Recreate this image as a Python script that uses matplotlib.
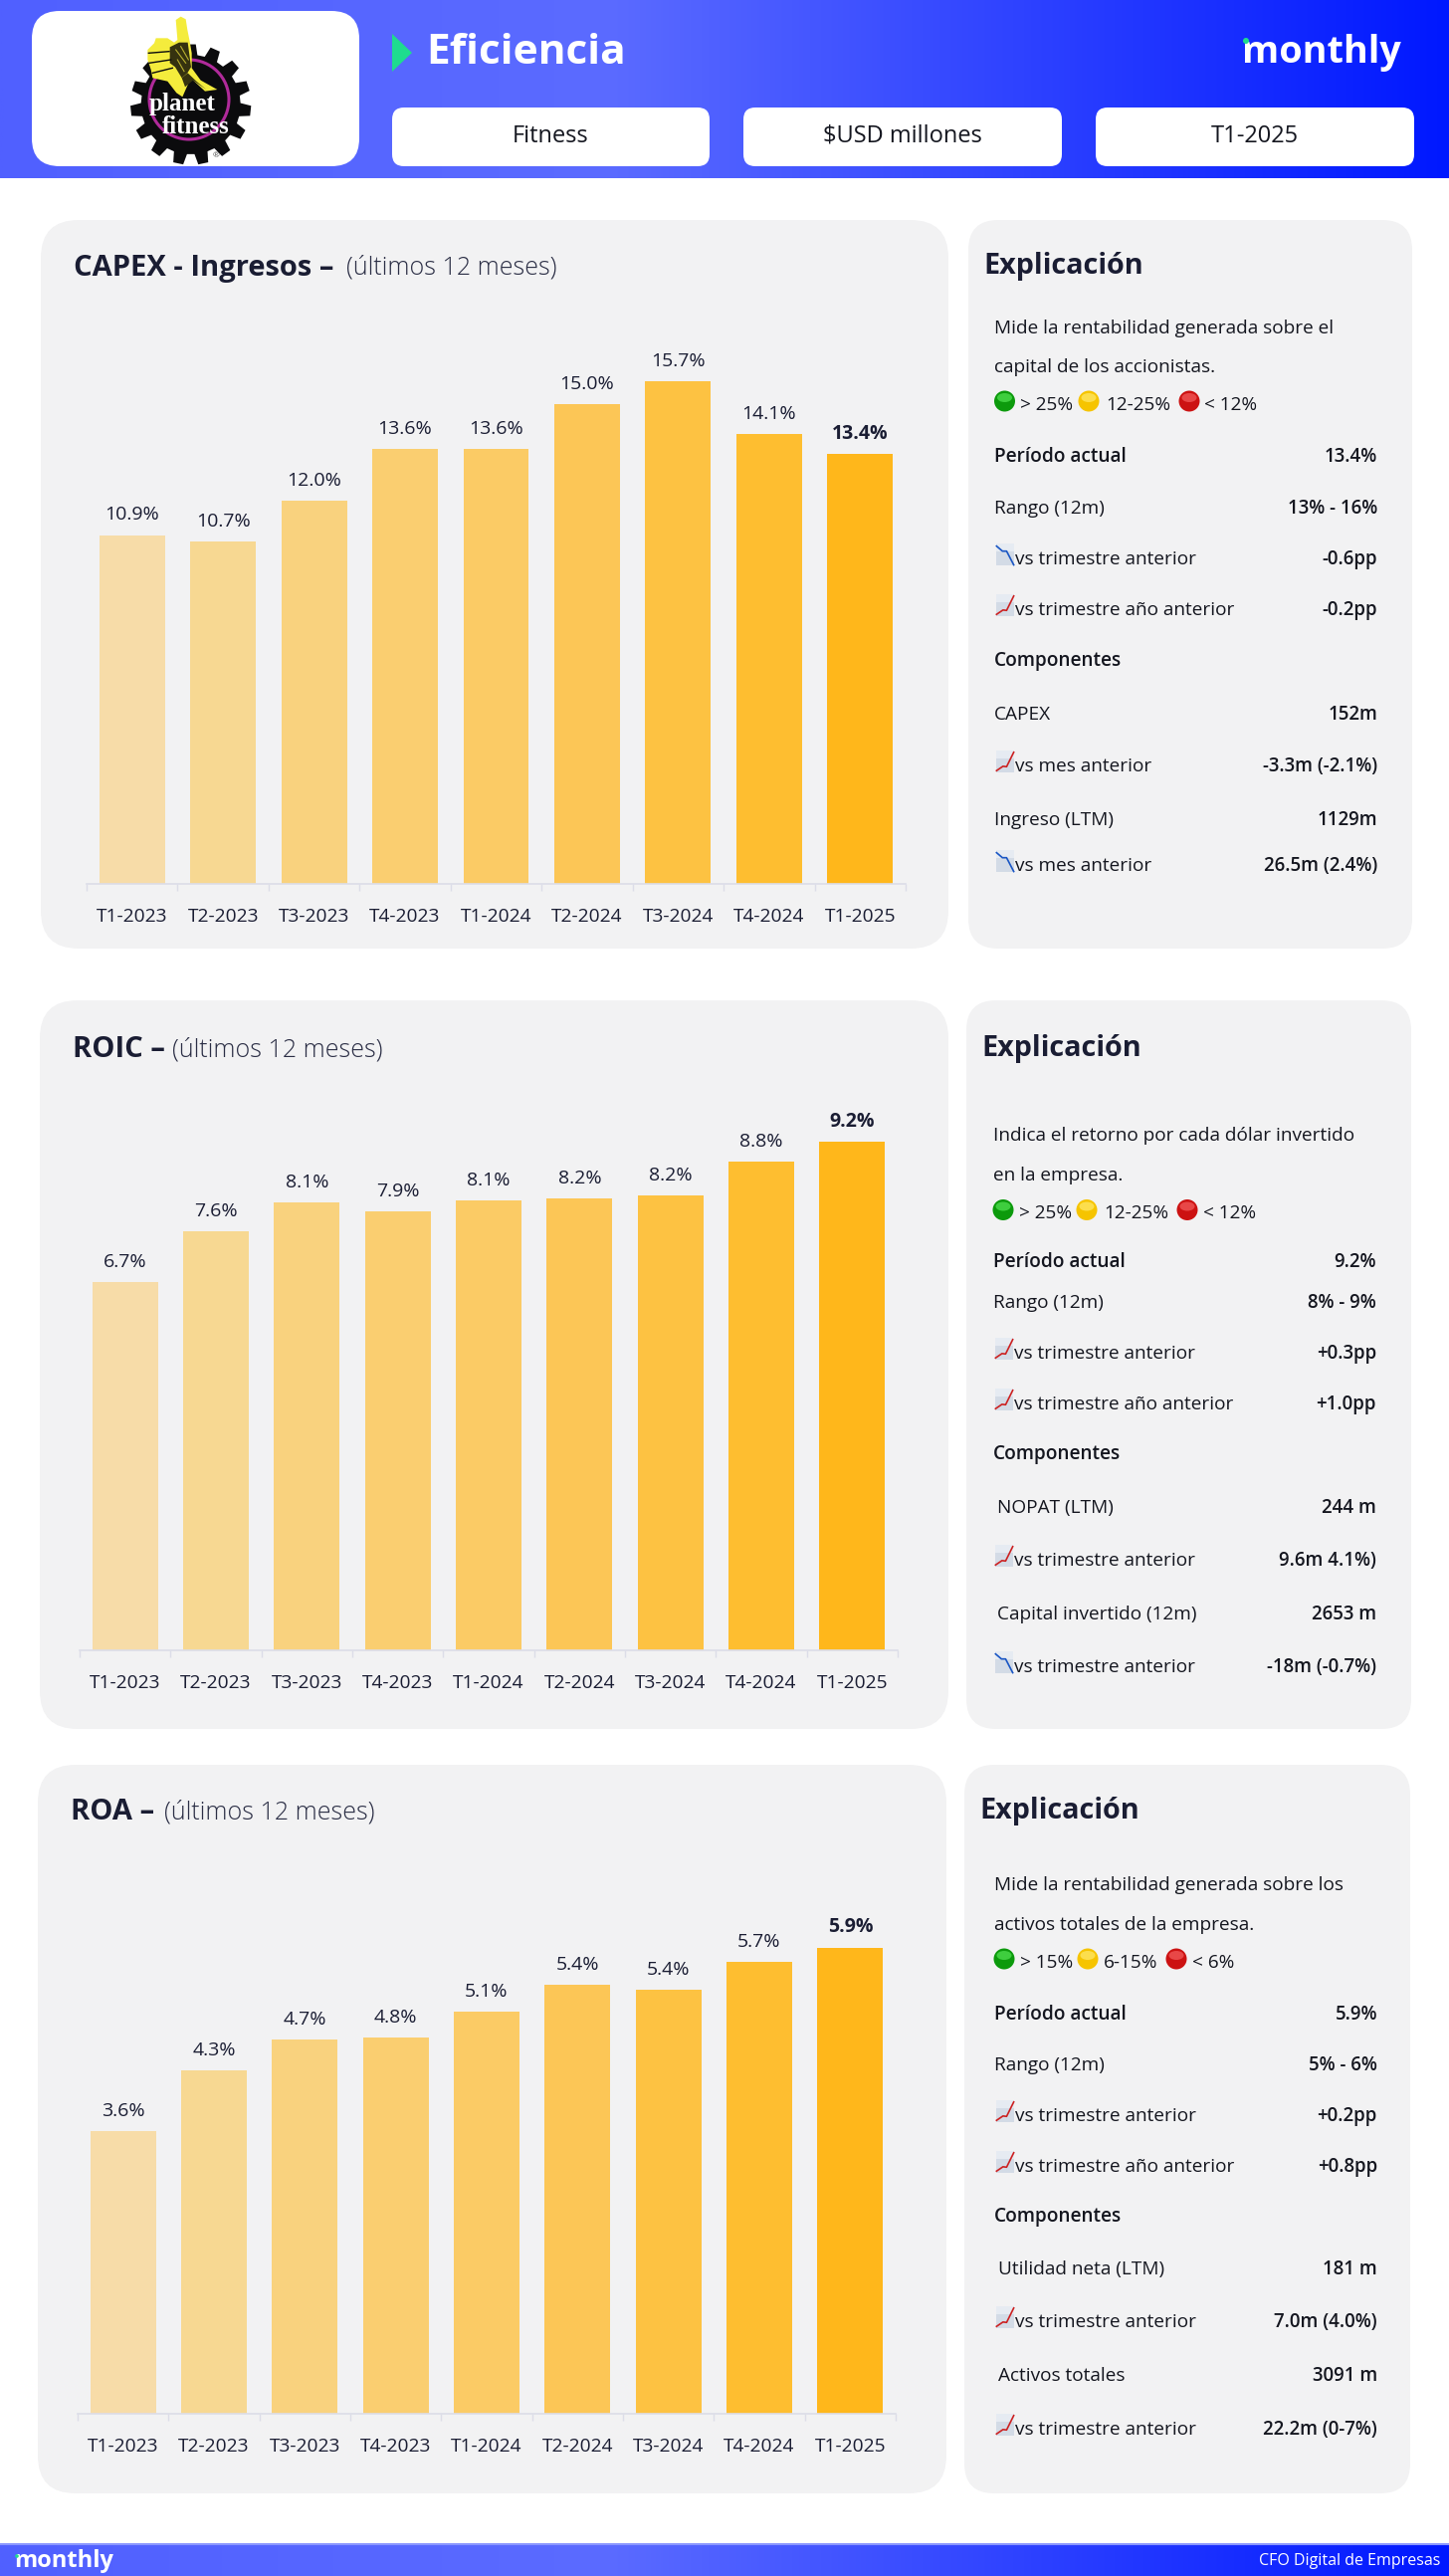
import numpy as np
import matplotlib
matplotlib.use("Agg")
import matplotlib.pyplot as plt
from matplotlib.colors import LinearSegmentedColormap
from matplotlib.patches import FancyBboxPatch, Circle, Ellipse, Polygon, Rectangle

plt.rcParams["font.family"] = ["Open Sans", "DejaVu Sans"]

W, H = 1456, 2588
DARK = "#1a1d33"
PANEL = "#f2f2f3"

# chart data
periods = ["T1-2023", "T2-2023", "T3-2023", "T4-2023", "T1-2024", "T2-2024", "T3-2024", "T4-2024", "T1-2025"]
capex_values = [10.9, 10.7, 11.96, 13.6, 13.6, 15.0, 15.7, 14.06, 13.44]
roic_values = [6.67, 7.59, 8.1, 7.94, 8.14, 8.18, 8.24, 8.84, 9.2]
roa_values = [3.58, 4.34, 4.74, 4.76, 5.09, 5.43, 5.36, 5.72, 5.9]
bar_colors = ["#f7dca8", "#f7d892", "#f9d27e", "#face70", "#fbcb65", "#fcc656", "#fdc242", "#febe30", "#ffb71b"]

# text of the side panels
capex_intro = ["Mide la rentabilidad generada sobre el", "capital de los accionistas."]
capex_legend = ["> 25%", "12-25%", "< 12%"]
capex_labels = ["Período actual", "Rango (12m)", "vs trimestre anterior", "vs trimestre año anterior", "Componentes",
                "CAPEX", "vs mes anterior", "Ingreso (LTM)", "vs mes anterior"]
capex_texts = ["13.4%", "13% - 16%", "-0.6pp", "-0.2pp", "", "152m", "-3.3m (-2.1%)", "1129m", "26.5m (2.4%)"]
capex_icons = ["", "", "down", "up", "", "", "up", "", "down"]

roic_intro = ["Indica el retorno por cada dólar invertido", "en la empresa."]
roic_legend = ["> 25%", "12-25%", "< 12%"]
roic_labels = ["Período actual", "Rango (12m)", "vs trimestre anterior", "vs trimestre año anterior", "Componentes",
               " NOPAT (LTM)", "vs trimestre anterior", " Capital invertido (12m)", "vs trimestre anterior"]
roic_texts = ["9.2%", "8% - 9%", "+0.3pp", "+1.0pp", "", "244 m", "9.6m 4.1%)", "2653 m", "-18m (-0.7%)"]
roic_icons = ["", "", "up", "up", "", "", "up", "", "down"]

roa_intro = ["Mide la rentabilidad generada sobre los", "activos totales de la empresa."]
roa_legend = ["> 15%", "6-15%", "< 6%"]
roa_labels = ["Período actual", "Rango (12m)", "vs trimestre anterior", "vs trimestre año anterior", "Componentes",
              " Utilidad neta (LTM)", "vs trimestre anterior", " Activos totales", "vs trimestre anterior"]
roa_texts = ["5.9%", "5% - 6%", "+0.2pp", "+0.8pp", "", "181 m", "7.0m (4.0%)", "3091 m", "22.2m (0-7%)"]
roa_icons = ["", "", "up", "up", "", "", "up", "", "up"]

fig = plt.figure(figsize=(W / 100, H / 100), dpi=100, facecolor="white")
bg = fig.add_axes([0, 0, 1, 1])
bg.set_axis_off()

grad = LinearSegmentedColormap.from_list("hdr", [(0, "#5060ff"), (0.42, "#5b6bff"), (1, "#0018ff")])
ramp = np.linspace(0, 1, 512).reshape(1, -1)
bg.imshow(ramp, cmap=grad, extent=[0, W, 179, 0], aspect="auto")
bg.imshow(ramp, cmap=grad, extent=[0, W, H, 2556], aspect="auto")
bg.set_xlim(0, W)
bg.set_ylim(H, 0)


def rbox(x0, y0, x1, y1, r, color):
    bg.add_patch(FancyBboxPatch((x0, y0), x1 - x0, y1 - y0, boxstyle=f"round,pad=0,rounding_size={r}",
                                fc=color, ec="none", zorder=2))


def lz(pts):
    return [(120 + a / 3, 10 + b / 3) for a, b in pts]


def draw_logo():
    n = 15
    cx, cy = 215, 285
    pts = []
    for i in range(n):
        a = 2 * np.pi * i / n - np.pi / 2
        step = 2 * np.pi / n
        for da, rad in [(-0.32, 150), (-0.2, 182), (0.2, 182), (0.32, 150)]:
            pts.append((cx + rad * np.cos(a + da * step), cy + rad * np.sin(a + da * step)))
    bg.add_patch(Polygon(lz(pts), fc="#0b0b0d", ec="none", zorder=3))
    bg.add_patch(Circle((190, 100), 40, fc="none", ec="#b02a9a", lw=2.2, zorder=4))
    # thumb, fist and wrist
    thumb = [(170, 30), (185, 20), (200, 28), (205, 60), (212, 95), (218, 130), (218, 175), (245, 212), (295, 240),
             (258, 245), (215, 205), (190, 262), (172, 250), (145, 215), (100, 205), (95, 180), (85, 150), (85, 120),
             (105, 100), (110, 85), (145, 85), (165, 98), (175, 90)]
    bg.add_patch(Polygon(lz(thumb), fc="#f4ec3c", ec="none", zorder=5))
    shade = [(152, 112), (180, 98), (206, 98), (216, 172), (205, 190), (188, 205), (168, 172), (152, 160)]
    bg.add_patch(Polygon(lz(shade), fc="#35320f", ec="none", zorder=6))
    wrist = [(206, 190), (232, 215), (262, 240), (222, 212), (198, 232), (188, 205)]
    bg.add_patch(Polygon(lz(wrist), fc="#35320f", ec="none", zorder=6))
    for seg in ([(88, 130), (150, 125)], [(90, 160), (155, 150)], [(100, 190), (160, 175)]):
        bg.plot(*zip(*lz(seg)), color="#0b0b0d", lw=1, zorder=6)
    for seg in ([(170, 120), (200, 160)], [(185, 110), (208, 150)], [(175, 150), (195, 185)]):
        bg.plot(*zip(*lz(seg)), color="#b8b030", lw=0.8, zorder=6)
    bg.text(120 + 188 / 3, 111, "planet", family="Liberation Serif", weight="bold", fontsize=18, color="white",
            ha="center", va="baseline", zorder=7)
    bg.text(120 + 229 / 3, 134, "fitness", family="Liberation Serif", weight="bold", fontsize=18, color="white",
            ha="center", va="baseline", zorder=7)
    bg.text(120 + 290 / 3, 10 + 441 / 3, "®", fontsize=6, color="#555555", ha="center", va="center", zorder=7)


def draw_header():
    rbox(32, 11, 361, 167, 28, "white")
    draw_logo()
    bg.add_patch(Polygon([(394, 34), (414, 53), (394, 72)], fc="#1edc8e", ec="none", zorder=3))
    bg.text(428, 54, "Eficiencia", color="white", fontsize=30.5, weight="bold", ha="left", va="center", zorder=3)
    bg.text(1408, 53, "monthly", color="white", fontsize=27.2, weight="bold", ha="right", va="center", zorder=3)
    bg.add_patch(Circle((1252, 41), 3, fc="#1edc8e", ec="none", zorder=4))
    for (x0, x1), txt in zip([(394, 713), (747, 1067), (1101, 1421)], ["Fitness", "$USD millones", "T1-2025"]):
        rbox(x0, 108, x1, 167, 12, "white")
        bg.text((x0 + x1) / 2, 137, txt, color="#14161f", fontsize=17, ha="center", va="center", zorder=3)


def draw_footer():
    bg.plot([0, W], [2555.5, 2555.5], color="#8b97ff", lw=1.5, zorder=3)
    bg.text(14, 2573, "monthly", color="white", fontsize=17, weight="bold", ha="left", va="center", zorder=3)
    bg.add_patch(Circle((17, 2568), 1.8, fc="#1edc8e", ec="none", zorder=4))
    bg.text(1447, 2573, "CFO Digital de Empresas", color="white", fontsize=11.5, ha="right", va="center", zorder=3)


def draw_chart(values, x0, x1, base, unit, ymax):
    ax = fig.add_axes([x0 / W, 1 - base / H, (x1 - x0) / W, unit * ymax / H])
    ax.patch.set_alpha(0)
    xs = np.arange(len(periods))
    ax.bar(xs, values, width=0.72, color=bar_colors, edgecolor="none")
    ax.set_xlim(-0.5, len(periods) - 0.5)
    ax.set_ylim(0, ymax)
    for s in ["top", "left", "right"]:
        ax.spines[s].set_visible(False)
    ax.spines["bottom"].set_color("#dcdde8")
    ax.spines["bottom"].set_linewidth(1.2)
    ax.set_yticks([])
    ax.set_xticks(xs)
    ax.set_xticklabels(periods, fontsize=13.8, color=DARK)
    ax.set_xticks(np.arange(len(periods) + 1) - 0.5, minor=True)
    ax.tick_params(axis="x", which="major", length=0, pad=17)
    ax.tick_params(axis="x", which="minor", length=5, color="#dcdde8", width=1)
    for i, v in enumerate(values):
        last = i == len(values) - 1
        ax.annotate(f"{v:.1f}%", (i, v), xytext=(0, 14.5), textcoords="offset points", ha="center", va="center",
                    fontsize=14, color=DARK, weight="bold" if last else "normal")


def draw_icon(x, y, kind):
    bg.add_patch(Rectangle((x, y), 18, 22, fc="#d3dbe6", ec="none", zorder=3))
    bg.add_patch(Rectangle((x, y), 18, 8, fc="#e6ebf2", ec="none", zorder=3))
    if kind == "down":
        line = [(0.02, 0.12), (0.35, 0.35), (0.58, 0.35), (0.98, 0.98)]
        col = "#1a56c4"
    else:
        line = [(0.02, 0.92), (0.38, 0.72), (0.58, 0.74), (0.98, 0.08)]
        col = "#cc2222"
    bg.plot([x + a * 18 for a, b in line], [y + b * 22 for a, b in line], color=col, lw=1.2, zorder=4)


def draw_dot(x, y, main, light):
    bg.add_patch(Circle((x, y), 10.5, fc=main, ec="none", zorder=3))
    bg.add_patch(Ellipse((x, y - 3.5), 15, 9, fc=light, ec="none", alpha=0.75, zorder=4))


def draw_side(px0, py0, px1, py1, head_y, left, right, intro, intro_y, legend, dots_x, legend_x, dots_y,
              labels, texts, icons, rows_y):
    rbox(px0, py0, px1, py1, 30, PANEL)
    bg.text(px0 + 15, head_y + 2, "Explicación", color=DARK, fontsize=20.7, weight="bold", ha="left", va="center", zorder=3)
    for line, y in zip(intro, intro_y):
        bg.text(left, y + 1, line, color="#14161f", fontsize=13.7, ha="left", va="center", zorder=3)
    dot_cols = [("#0c9a0c", "#4fe04f"), ("#f6c400", "#ffe868"), ("#cc1212", "#f25a5a")]
    for dx, tx, txt, (c1, c2) in zip(dots_x, legend_x, legend, dot_cols):
        draw_dot(dx, dots_y, c1, c2)
        bg.text(tx, dots_y + 4, txt, color="#14161f", fontsize=13.7, ha="left", va="center", zorder=3)
    for lab, val, ic, y in zip(labels, texts, icons, rows_y):
        heavy = lab in ("Período actual", "Componentes")
        tx = left
        if ic:
            draw_icon(left + 2, y - 16, ic)
            tx = left + 21
        if lab.startswith(" "):
            lab = lab.strip()
            tx = left + 4
        bg.text(tx, y, lab, color="#14161f", fontsize=13.7, weight="semibold" if heavy else "normal",
                ha="left", va="center", zorder=3)
        if val:
            bg.text(right, y, val, color="#14161f", fontsize=13.4, weight="semibold", ha="right", va="center", zorder=3)


def draw_title(x, y, head, sub_x):
    bg.text(x, y + 2, head, color=DARK, fontsize=21, weight="bold", ha="left", va="center", zorder=3)
    bg.text(sub_x, y + 2, "(últimos 12 meses)", color="#2b2e45", fontsize=18, weight="light", ha="left", va="center", zorder=3)


draw_header()
draw_footer()

# left panels
rbox(41, 221, 953, 953, 38, PANEL)
rbox(40, 1005, 953, 1737, 38, PANEL)
rbox(38, 1773, 951, 2505, 38, PANEL)

draw_title(74, 267, "CAPEX - Ingresos –", 348)
draw_title(73, 1053, "ROIC –", 173)
draw_title(71, 1819, "ROA –", 165)

draw_chart(capex_values, 87, 910, 888, 32.15, 18)
draw_chart(roic_values, 80, 902, 1658, 55.5, 10)
draw_chart(roa_values, 78, 900, 2425, 79.4, 7)

draw_side(973, 221, 1419, 953, 266, 999, 1384, capex_intro, [329, 368], capex_legend,
          [1009.5, 1094, 1195], [1025, 1111, 1210], 403,
          capex_labels, capex_texts, capex_icons, [459, 511, 562, 613, 664, 718, 770, 824, 870])
draw_side(971, 1005, 1418, 1737, 1052, 998, 1383, roic_intro, [1140, 1180], roic_legend,
          [1008, 1092, 1193], [1024, 1109, 1209], 1215.5,
          roic_labels, roic_texts, roic_icons, [1268, 1309, 1360, 1411, 1461, 1515, 1568, 1622, 1675])
draw_side(969, 1773, 1417, 2505, 1817, 999, 1384, roa_intro, [1893, 1933], roa_legend,
          [1009, 1093, 1182], [1025, 1109, 1198], 1968,
          roa_labels, roa_texts, roa_icons, [2024, 2075, 2126, 2177, 2227, 2280, 2333, 2387, 2441])

fig.savefig("out.png", dpi=100, facecolor="white")
